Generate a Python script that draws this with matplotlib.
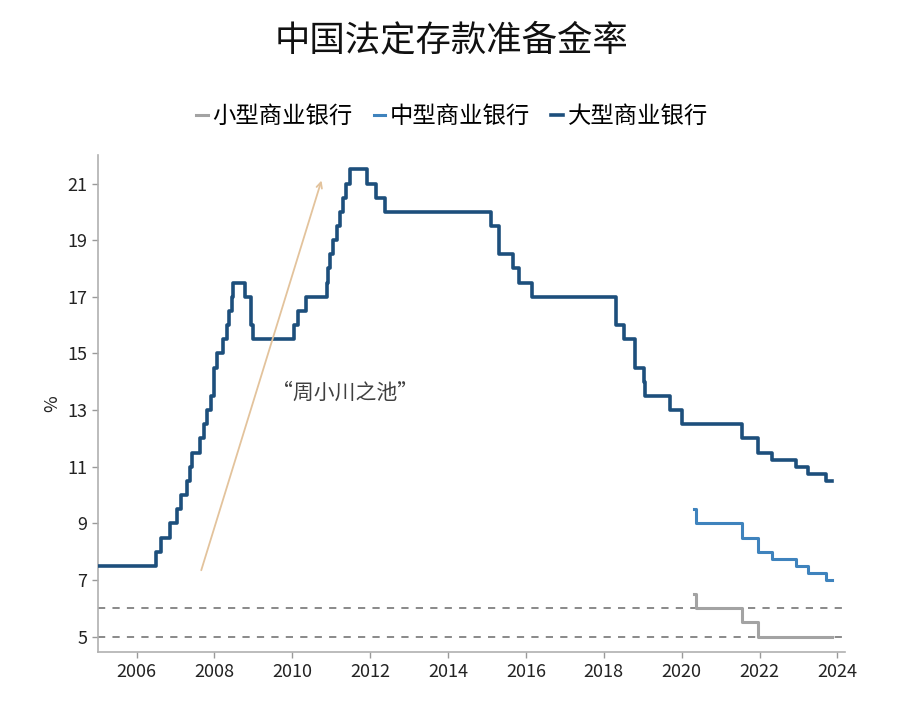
import matplotlib
matplotlib.use("Agg")
import matplotlib.pyplot as plt

plt.rcParams['font.family'] = ['Noto Sans CJK SC', 'DejaVu Sans']
plt.rcParams['axes.unicode_minus'] = False

# 大型商业银行 (decimal year of change, rate %)
big_dates = [2005.0, 2006.51, 2006.62, 2006.87, 2007.04, 2007.15, 2007.29, 2007.37,
             2007.43, 2007.62, 2007.73, 2007.82, 2007.90, 2007.98, 2008.07, 2008.23,
             2008.31, 2008.38, 2008.45, 2008.48, 2008.79, 2008.93, 2008.98,
             2010.05, 2010.15, 2010.36, 2010.88, 2010.91, 2010.97, 2011.05, 2011.15,
             2011.23, 2011.30, 2011.38, 2011.47, 2011.93, 2012.15, 2012.38,
             2015.10, 2015.30, 2015.68, 2015.81, 2016.16, 2018.31, 2018.51, 2018.79,
             2019.04, 2019.07, 2019.71, 2020.01, 2021.54, 2021.95, 2022.31, 2022.93,
             2023.24, 2023.71, 2023.85]
big_rates = [7.5, 8.0, 8.5, 9.0, 9.5, 10.0, 10.5, 11.0,
             11.5, 12.0, 12.5, 13.0, 13.5, 14.5, 15.0, 15.5,
             16.0, 16.5, 17.0, 17.5, 17.0, 16.0, 15.5,
             16.0, 16.5, 17.0, 17.5, 18.0, 18.5, 19.0, 19.5,
             20.0, 20.5, 21.0, 21.5, 21.0, 20.5, 20.0,
             19.5, 18.5, 18.0, 17.5, 17.0, 16.0, 15.5, 14.5,
             14.0, 13.5, 13.0, 12.5, 12.0, 11.5, 11.25, 11.0,
             10.75, 10.5, 10.5]

# 中型商业银行
mid_dates = [2020.32, 2020.36, 2021.54, 2021.95, 2022.31, 2022.93, 2023.24, 2023.71, 2023.85]
mid_rates = [9.5, 9.0, 8.5, 8.0, 7.75, 7.5, 7.25, 7.0, 7.0]

# 小型商业银行
small_dates = [2020.32, 2020.36, 2021.54, 2021.95, 2023.85]
small_rates = [6.5, 6.0, 5.5, 5.0, 5.0]

ref_levels = [6, 5]
year_ticks = [2006, 2008, 2010, 2012, 2014, 2016, 2018, 2020, 2022, 2024]
rate_ticks = [5, 7, 9, 11, 13, 15, 17, 19, 21]

fig = plt.figure(figsize=(9.04, 7.12), dpi=100)
ax = fig.add_axes([0.108, 0.084, 0.827, 0.698])

for lv in ref_levels:
    ax.axhline(lv, color='#808080', lw=1.3, ls=(0, (4, 4)), zorder=1)

l_small, = ax.step(small_dates, small_rates, where='post', color='#a3a3a3', lw=2.2,
                   label='小型商业银行', zorder=3)
l_mid, = ax.step(mid_dates, mid_rates, where='post', color='#3f83bd', lw=2.2,
                 label='中型商业银行', zorder=3)
l_big, = ax.step(big_dates, big_rates, where='post', color='#1d4f7c', lw=2.6,
                 label='大型商业银行', zorder=3)

ax.annotate('', xy=(2010.77, 21.2), xytext=(2007.64, 7.25),
            arrowprops=dict(arrowstyle='->', color='#e3c39c', lw=1.3))
ax.text(2011.35, 13.6, '“周小川之池”', fontsize=15, color='#404040',
        ha='center', va='center')

ax.set_xlim(2005.0, 2024.2)
ax.set_ylim(4.45, 22.0)
ax.set_xticks(year_ticks)
ax.set_yticks(rate_ticks)
ax.tick_params(labelsize=13, colors='#222222', length=4, width=1)
ax.tick_params(axis='both', color='#999999')
for s in ['top', 'right']:
    ax.spines[s].set_visible(False)
for s in ['left', 'bottom']:
    ax.spines[s].set_color('#b0b0b0')
    ax.spines[s].set_linewidth(1.2)
ax.set_ylabel('%', fontsize=13, color='#222222')

fig.text(0.5, 0.943, '中国法定存款准备金率', ha='center', va='center',
         fontsize=25.5, color='#111111')
fig.legend(handles=[l_small, l_mid, l_big], loc='center', bbox_to_anchor=(0.5, 0.836),
           ncol=3, frameon=False, fontsize=16.8, handlelength=0.5, handletextpad=0.2,
           columnspacing=0.9)

fig.savefig('out.png', dpi=100)
